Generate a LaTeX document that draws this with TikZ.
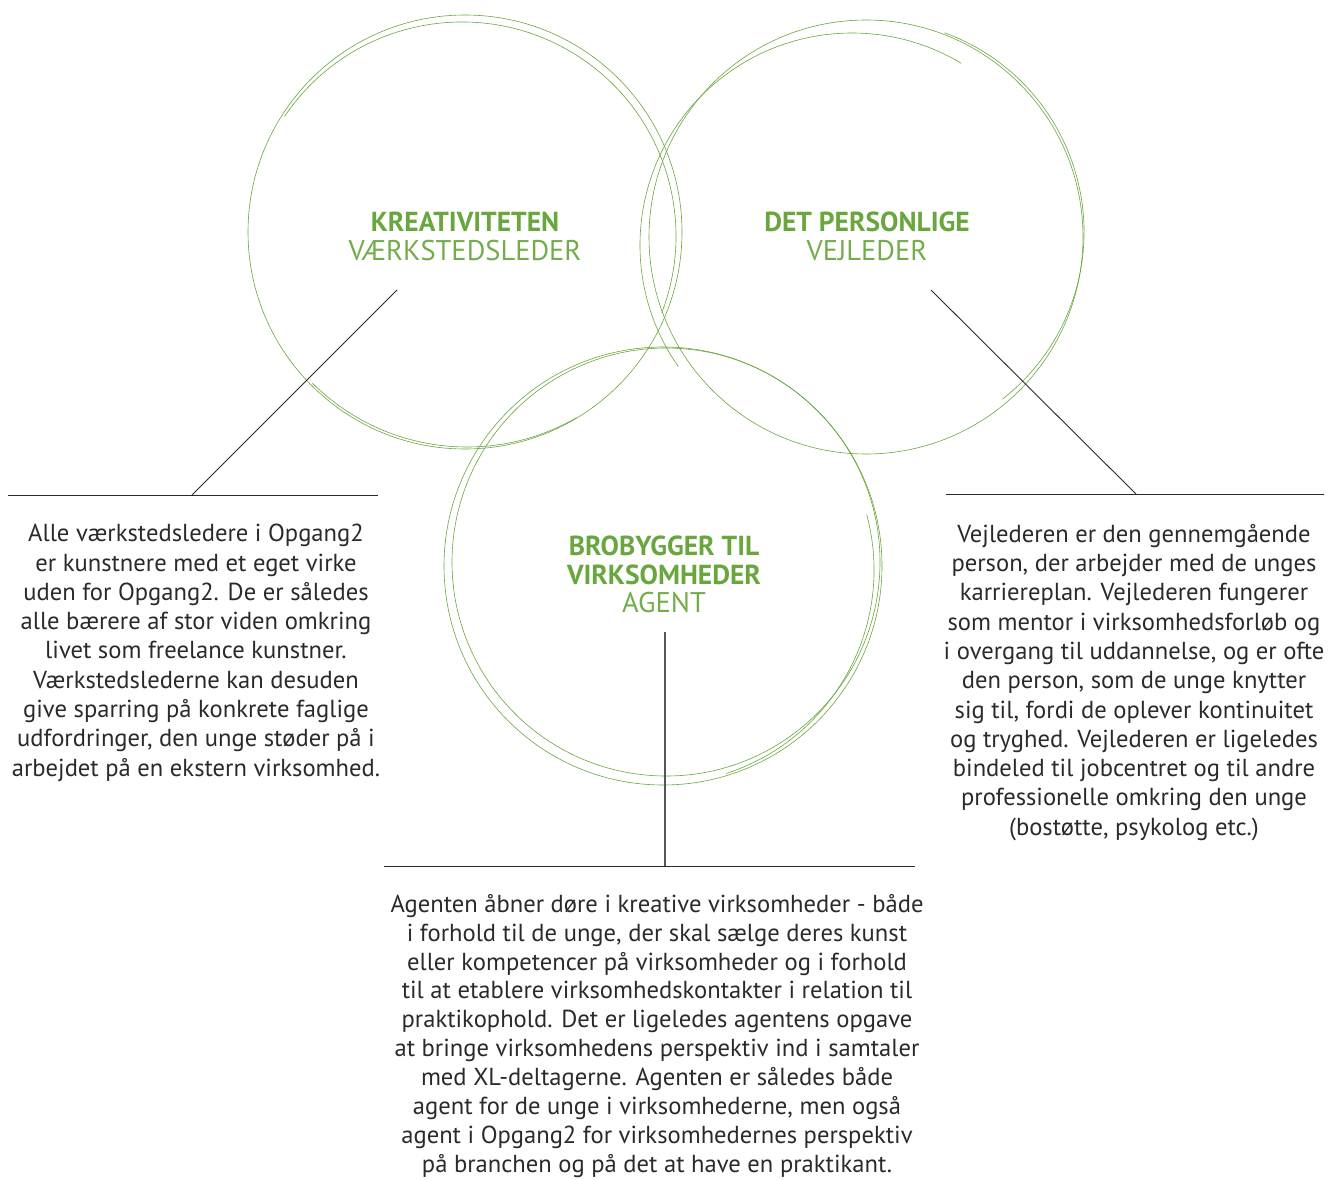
\documentclass[tikz,border=0pt]{standalone}
\usepackage{fontspec}
\setmainfont{PT Sans}
\definecolor{grn}{HTML}{6AA63E}
\definecolor{lgrn}{HTML}{74AC4C}
\definecolor{ink}{HTML}{2A2A2A}
\begin{document}
\begin{tikzpicture}[x=1pt,y=1pt,
  ring/.style={draw=grn,line width=0.6pt},
  leader/.style={draw=ink,line width=0.9pt},
  titel/.style={text=grn,font=\fontsize{27.5}{29}\selectfont\bfseries,align=center,inner sep=0pt},
  rolle/.style={text=lgrn,font=\fontsize{28.5}{29}\selectfont,inner sep=0pt},
  brod/.style={text=ink,font=\fontsize{24.6}{29.3}\selectfont,align=center,inner sep=0pt,anchor=north}]
\useasboundingbox (0,0) rectangle (1331,-1180);
% circles, drawn twice for the sketchy look
\draw[ring] (465,-232) circle (217);
\draw[ring] ([shift={(146:214)}]462,-236) arc[start angle=146,end angle=-21,radius=214];
\draw[ring] ([shift={(225:219)}]467,-228) arc[start angle=225,end angle=300,radius=219];
\draw[ring] (866,-237) circle (217);
\draw[ring] ([shift={(215:212)}]852,-245) arc[start angle=215,end angle=59,radius=212];
\draw[ring] ([shift={(70:212)}]872,-232) arc[start angle=70,end angle=-52,radius=212];
\draw[ring] (663,-566) circle (219);
\draw[ring] ([shift={(176:214)}]666,-562) arc[start angle=176,end angle=547,radius=214];
\draw[ring] ([shift={(288:214)}]660,-570) arc[start angle=288,end angle=375,radius=214];
% headings
\node[titel] (kreativ) at (465,-222) {KREATIVITETEN};
\node[rolle] (vaerkleder) at (465,-251) {VÆRKSTEDSLEDER};
\node[titel] (personlig) at (867,-222) {DET PERSONLIGE};
\node[rolle] (vejleder) at (867,-251) {VEJLEDER};
\node[titel] (brobyg) at (664,-560) {BROBYGGER TIL\\VIRKSOMHEDER};
\node[rolle] (agent) at (664,-603) {AGENT};
% leader lines
\coordinate (vstart) at (397,-290);
\coordinate (vknaek) at (192,-495);
\coordinate (vvenstre) at (8,-495);
\coordinate (vhoejre) at (378,-495);
\coordinate (hstart) at (931,-290);
\coordinate (hknaek) at (1136,-494);
\coordinate (hvenstre) at (946,-494);
\coordinate (hhoejre) at (1324,-494);
\coordinate (astart) at (665,-632);
\coordinate (aknaek) at (665,-866);
\coordinate (avenstre) at (384,-866);
\coordinate (ahoejre) at (915,-866);
\path[leader] (vstart) -- (vknaek);
\path[leader] (vvenstre) -- (vhoejre);
\path[leader] (hstart) -- (hknaek);
\path[leader] (hvenstre) -- (hhoejre);
\path[leader,line width=1.3pt,draw=ink!80] (astart) -- (aknaek);
\path[leader] (avenstre) -- (ahoejre);
% texts
\node[brod] (vaerktekst) at (196,-524) {Alle værkstedsledere i Opgang2\\er kunstnere med et eget virke\\uden for Opgang2. De er således\\alle bærere af stor viden omkring\\livet som freelance kunstner.\\Værkstedslederne kan desuden\\give sparring på konkrete faglige\\udfordringer, den unge støder på i\\arbejdet på en ekstern virksomhed.};
\node[brod] (vejltekst) at (1134,-524) {Vejlederen er den gennemgående\\person, der arbejder med de unges\\karriereplan. Vejlederen fungerer\\som mentor i virksomhedsforløb og\\i overgang til uddannelse, og er ofte\\den person, som de unge knytter\\sig til, fordi de oplever kontinuitet\\og tryghed. Vejlederen er ligeledes\\bindeled til jobcentret og til andre\\professionelle omkring den unge\\(bostøtte, psykolog etc.)};
\node[brod,font=\fontsize{24.6}{28.9}\selectfont] (agenttekst) at (657,-894) {Agenten åbner døre i kreative virksomheder - både\\i forhold til de unge, der skal sælge deres kunst\\eller kompetencer på virksomheder og i forhold\\til at etablere virksomhedskontakter i relation til\\praktikophold. Det er ligeledes agentens opgave\\at bringe virksomhedens perspektiv ind i samtaler\\med XL-deltagerne. Agenten er således både\\agent for de unge i virksomhederne, men også\\agent i Opgang2 for virksomhedernes perspektiv\\på branchen og på det at have en praktikant.};
\end{tikzpicture}
\end{document}
